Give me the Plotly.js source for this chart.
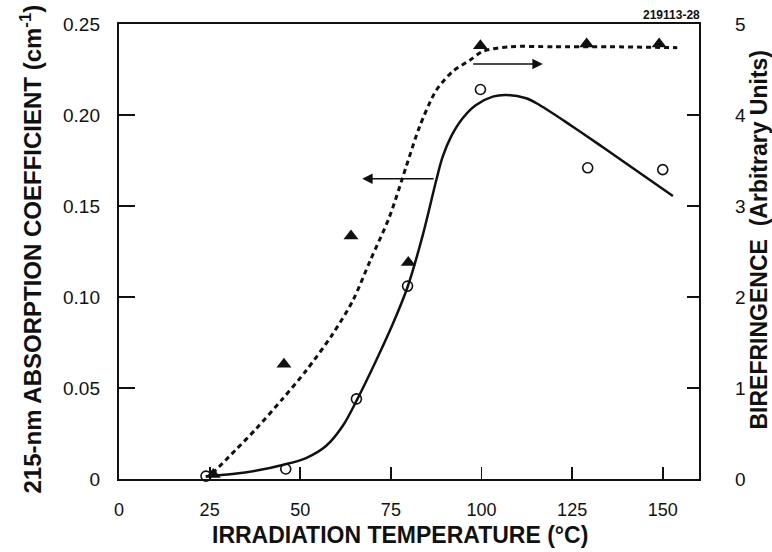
<!DOCTYPE html>
<html>
<head>
<meta charset="utf-8">
<script src="https://cdn.plot.ly/plotly-3.0.1.min.js"></script>
<style>html,body{margin:0;padding:0;background:#fff;}#chart{width:772px;height:552px;}</style>
</head>
<body>
<div id="chart"></div>
<script>
// Measured points: 215-nm absorption coefficient (left axis, cm^-1)
const absTemps = [24, 46, 65.5, 79.6, 99.7, 129.3, 150];
const absValues = [0.0016, 0.0055, 0.044, 0.106, 0.214, 0.171, 0.170];

// Measured points: birefringence (right axis, arbitrary units)
const birTemps = [26, 45.5, 64, 79.8, 99.7, 129, 149];
const birValues = [0.05, 1.26, 2.67, 2.38, 4.76, 4.78, 4.78];

// Hand-drawn fit curves
const absFitTemps = [23.9, 31.3, 38.7, 45.1, 51.6, 57.1, 61.7, 65.5, 68.1, 71, 75.4, 79.6, 83.8, 87.5, 89.3, 91.6, 94.8, 98.5, 103.1, 106.8, 112.3, 116, 125.1, 133.4, 142.5, 152.8];
const absFitValues = [0.0015, 0.0028, 0.0049, 0.0077, 0.0115, 0.0181, 0.0291, 0.0429, 0.0533, 0.0654, 0.0846, 0.1055, 0.134, 0.164, 0.1771, 0.1881, 0.1982, 0.2055, 0.2101, 0.211, 0.2092, 0.2055, 0.1937, 0.1824, 0.1698, 0.1555];

const birFitTemps = [25.8, 32.2, 37.8, 45.1, 51.6, 58.9, 64.5, 69.3, 74.6, 79.2, 82.9, 87.5, 92.1, 96.7, 100.4, 107.7, 120, 135, 154];
const birFitValues = [0.062, 0.32, 0.55, 0.88, 1.19, 1.59, 1.96, 2.40, 2.88, 3.43, 3.87, 4.27, 4.48, 4.60, 4.70, 4.75, 4.75, 4.75, 4.74];

// Tick labels
const xTickVals = [0, 25, 50, 75, 100, 125, 150];
const xTickText = ['0', '25', '50', '75', '100', '125', '150'];
const yTickVals = [0, 0.05, 0.10, 0.15, 0.20, 0.25];
const yTickText = ['0', '0.05', '0.10', '0.15', '0.20', '0.25'];
const y2TickVals = [0, 1, 2, 3, 4, 5];
const y2TickText = ['0', '1', '2', '3', '4', '5'];

const FONT = '"Liberation Sans", Arial, Helvetica, sans-serif';
const INK = '#111';

const traces = [
  {x: birFitTemps, y: birFitValues, yaxis: 'y2', mode: 'lines', type: 'scatter',
   line: {color: INK, width: 3, dash: '5px,4px', shape: 'spline', smoothing: 0.8}, hoverinfo: 'skip'},
  {x: absFitTemps, y: absFitValues, mode: 'lines', type: 'scatter',
   line: {color: INK, width: 2.5, shape: 'spline', smoothing: 1}, hoverinfo: 'skip'},
  {x: absTemps, y: absValues, mode: 'markers', type: 'scatter', cliponaxis: false,
   marker: {symbol: 'circle-open', size: 10, color: INK, line: {width: 1.6, color: INK}}},
  {x: birTemps, y: birValues, yaxis: 'y2', mode: 'markers', type: 'scatter', cliponaxis: false,
   marker: {symbol: 'triangle-up', size: 13, color: INK}}
];

const layout = {
  width: 772, height: 552,
  margin: {l: 119, r: 73, t: 24, b: 73, pad: 0},
  paper_bgcolor: '#fff', plot_bgcolor: '#fff',
  showlegend: false,
  font: {family: FONT, color: INK, size: 18},
  xaxis: {
    range: [0, 160], tickvals: xTickVals, ticktext: xTickText,
    ticks: 'inside', ticklen: 12, tickwidth: 1.8, tickcolor: INK,
    showline: true, linewidth: 2.2, linecolor: INK, mirror: true,
    showgrid: false, zeroline: false, ticklabelstandoff: 13,
    tickfont: {family: FONT, size: 18, color: INK}
  },
  yaxis: {
    range: [0, 0.25], tickvals: yTickVals, ticktext: yTickText,
    ticks: 'inside', ticklen: 16, tickwidth: 1.8, tickcolor: INK,
    showline: true, linewidth: 2.2, linecolor: INK,
    showgrid: false, zeroline: false, ticklabelstandoff: 13,
    tickfont: {family: FONT, size: 19, color: INK}
  },
  yaxis2: {
    range: [0, 5], overlaying: 'y', side: 'right', tickvals: y2TickVals, ticktext: y2TickText,
    ticks: 'inside', ticklen: 12, tickwidth: 1.8, tickcolor: INK,
    showline: true, linewidth: 2.2, linecolor: INK,
    showgrid: false, zeroline: false, ticklabelstandoff: 30,
    tickfont: {family: FONT, size: 19, color: INK}
  },
  annotations: [
    {xref: 'paper', yref: 'paper', x: 0.5, y: 0, xanchor: 'center', yanchor: 'middle',
     xshift: -9, yshift: -56, showarrow: false,
     text: '<b>IRRADIATION TEMPERATURE (°C)</b>', font: {family: FONT, size: 23, color: INK}},
    {xref: 'paper', yref: 'paper', x: 0, y: 0.5, xanchor: 'center', yanchor: 'middle',
     xshift: -89, yshift: 2, showarrow: false, textangle: -90,
     text: '<b>215-nm ABSORPTION COEFFICIENT (cm<sup>-1</sup>)</b>', font: {family: FONT, size: 24, color: INK}},
    {xref: 'paper', yref: 'paper', x: 1, y: 0.5, xanchor: 'center', yanchor: 'middle',
     xshift: 59, yshift: 12, showarrow: false, textangle: -90,
     text: '<b>BIREFRINGENCE  (Arbitrary Units)</b>', font: {family: FONT, size: 23, color: INK}},
    {xref: 'paper', yref: 'paper', x: 1, y: 1, xanchor: 'right', yanchor: 'middle',
     xshift: 3, yshift: 9, showarrow: false,
     text: '<b>219113-28</b>', font: {family: FONT, size: 12, color: INK}},
    {xref: 'x', yref: 'y', x: 67.1, y: 0.165, axref: 'x', ayref: 'y', ax: 87.2, ay: 0.165,
     showarrow: true, arrowhead: 2, arrowsize: 1.3, arrowwidth: 1.6, arrowcolor: INK, text: ''},
    {xref: 'x', yref: 'y', x: 116.9, y: 0.228, axref: 'x', ayref: 'y', ax: 97.3, ay: 0.228,
     showarrow: true, arrowhead: 2, arrowsize: 1.3, arrowwidth: 1.6, arrowcolor: INK, text: ''}
  ]
};

Plotly.newPlot('chart', traces, layout, {staticPlot: true, displayModeBar: false});
</script>
</body>
</html>
